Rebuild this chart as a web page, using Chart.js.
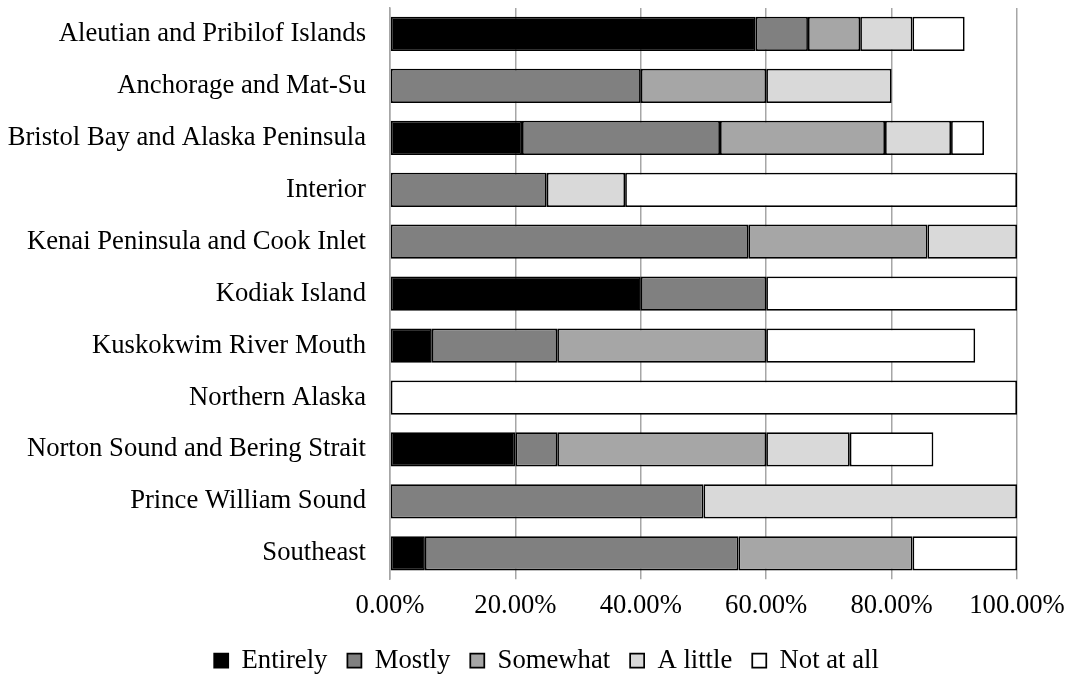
<!DOCTYPE html>
<html>
<head>
<meta charset="utf-8">
<script src="https://cdn.jsdelivr.net/npm/chart.js@4"></script>
<style>
  body { margin: 0; background: #fff; }
  #wrap { width: 1067px; height: 675px; }
</style>
</head>
<body>
<div id="wrap"><canvas id="myChart"></canvas></div>
<script>
// regions (rows, top to bottom)
const regions = [
    'Aleutian and Pribilof Islands',
    'Anchorage and Mat-Su',
    'Bristol Bay and Alaska Peninsula',
    'Interior',
    'Kenai Peninsula and Cook Inlet',
    'Kodiak Island',
    'Kuskokwim River Mouth',
    'Northern Alaska',
    'Norton Sound and Bering Strait',
    'Prince William Sound',
    'Southeast'
];

// shares in percent, one array per answer
const entirely = [58.33, 0, 21.05, 0, 0, 40, 6.67, 0, 20, 0, 5.56];
const mostly   = [8.33, 40, 31.58, 25, 57.14, 20, 20, 0, 6.67, 50, 50];
const somewhat = [8.33, 20, 26.32, 0, 28.57, 0, 33.33, 0, 33.33, 0, 27.78];
const aLittle  = [8.33, 20, 10.53, 12.5, 14.29, 0, 0, 0, 13.33, 50, 0];
const notAtAll = [8.33, 0, 5.26, 62.5, 0, 40, 33.33, 100, 13.33, 0, 16.67];

const xTicks = [0, 20, 40, 60, 80, 100];

// 20pt serif
const font = { family: 'Liberation Serif', size: 26.67 };

function series(label, values, color) {
    return {
        label: label,
        data: values,
        backgroundColor: color,
        borderColor: '#000',
        borderWidth: 1.75,
        borderSkipped: false,
        categoryPercentage: 1,
        barPercentage: 0.66
    };
}

const data = {
    labels: regions,
    datasets: [
        series('Entirely', entirely, '#000000'),
        series('Mostly', mostly, '#808080'),
        series('Somewhat', somewhat, '#a6a6a6'),
        series('A little', aLittle, '#d9d9d9'),
        series('Not at all', notAtAll, '#ffffff')
    ]
};

// move the legend a bit right, like the original
const legendShift = {
    id: 'legendShift',
    afterLayout(chart) {
        chart.legend.left += 38;
        chart.legend.right += 38;
    }
};

const config = {
    type: 'bar',
    data,
    plugins: [legendShift],
    options: {
        indexAxis: 'y',
        responsive: true,
        maintainAspectRatio: false,
        animation: false,
        layout: {
            padding: { top: 8, right: 50, left: 0, bottom: -9 }
        },
        scales: {
            x: {
                stacked: true,
                min: 0,
                max: 100,
                afterBuildTicks: function (axis) {
                    axis.ticks = xTicks.map(v => ({ value: v }));
                },
                ticks: {
                    color: '#000',
                    font: font,
                    padding: 11,
                    callback: function (value) {
                        return value.toFixed(2) + '%';
                    }
                },
                grid: {
                    color: '#a6a6a6',
                    lineWidth: 1.5,
                    tickLength: 0
                },
                border: { display: false },
                afterFit: function (axis) {
                    axis.height = 48;
                    // let the end labels hang over, plot keeps its width
                    axis.paddingLeft = 0;
                    axis.paddingRight = 0;
                }
            },
            y: {
                stacked: true,
                ticks: {
                    color: '#000',
                    font: font,
                    padding: 16
                },
                grid: { display: false },
                border: { display: true, color: '#a6a6a6', width: 1.5 },
                afterFit: function (axis) {
                    axis.width = 390;
                    // no extra room above/below for the row labels
                    axis.paddingTop = 0;
                    axis.paddingBottom = 0;
                }
            }
        },
        plugins: {
            legend: {
                position: 'bottom',
                labels: {
                    color: '#000',
                    font: font,
                    boxWidth: 14,
                    boxHeight: 14,
                    padding: 20
                }
            },
            tooltip: { enabled: false }
        }
    }
};

const myChart = new Chart(document.getElementById('myChart'), config);
</script>
</body>
</html>
